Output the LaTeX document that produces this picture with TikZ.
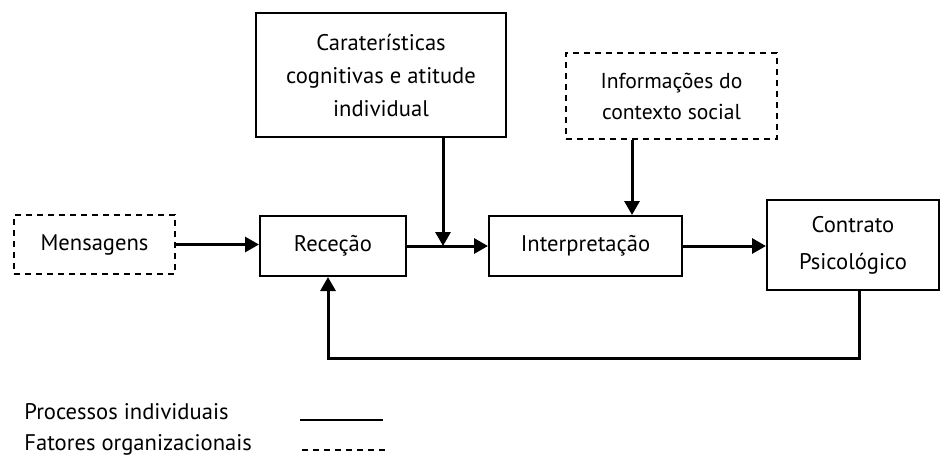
\documentclass[tikz,border=0pt]{standalone}
\usepackage{fontspec}
\setmainfont{PT Sans}
\usepackage{tikz}
\usetikzlibrary{arrows.meta}
\tikzstyle{block} = [rectangle, draw, line width=1pt, align=center, inner sep=0pt, font=\fontsize{11.3}{16.5}\selectfont]
\tikzstyle{fator} = [block, dash pattern=on 3pt off 2.5pt]
\tikzstyle{line} = [draw, line width=1.5pt, -{Triangle[length=7pt,width=7.5pt]}]
\tikzstyle{legenda} = [anchor=west, inner sep=0pt, font=\fontsize{11.3}{16}\selectfont]

\begin{document}
\begin{tikzpicture}[x=0.5pt, y=-0.5pt]
    \useasboundingbox (0,0) rectangle (941,462);

    % Nodes
    \node [fator, minimum width=80.5pt, minimum height=29.5pt] (mensagens) at (94.5,244.5) {Mensagens};
    \node [block, minimum width=73pt, minimum height=30pt] (rececao) at (333,246) {Receção};
    \node [block, minimum width=125pt, minimum height=62pt] (caracteristicas) at (381,75) {Caraterísticas\\cognitivas e atitude\\individual};
    \node [fator, minimum width=105.5pt, minimum height=43pt, font=\fontsize{10.8}{15.5}\selectfont] (informacoes) at (671.5,96) {Informações do\\contexto social};
    \node [block, minimum width=96.5pt, minimum height=30pt] (interpretacao) at (585.5,246) {Interpretação};
    \node [block, minimum width=86pt, minimum height=45pt, font=\fontsize{11.3}{18.5}\selectfont] (contrato) at (853,245) {Contrato\\Psicológico};

    % legend
    \node [legenda] (individuais) at (24,412) {Processos individuais};
    \node [legenda] (organizacionais) at (24,445) {Fatores organizacionais};
    \coordinate (sol_a) at (300,420);
    \coordinate (sol_b) at (383,420);
    \coordinate (das_a) at (302,450);
    \coordinate (das_b) at (385,450);

    % junction of the two inputs
    \coordinate (juncao) at (443,246);

    % arrows
    \draw [line] (mensagens.east) -- (rececao.west |- mensagens.east);
    \draw [line] (rececao.east) -- (interpretacao.west);
    \draw [line] (caracteristicas.south -| juncao) -- (juncao);
    \draw [line] ([xshift=-19.75pt]informacoes.south) -- ([xshift=-19.75pt]informacoes.south |- interpretacao.north);
    \draw [line] (interpretacao.east) -- (contrato.west |- interpretacao.east);
    \draw [line] ([xshift=3pt]contrato.south) -- ++(0,67) -| ([xshift=-2.5pt]rececao.south);

    \draw [line width=1pt] (sol_a) -- (sol_b);
    \draw [line width=1pt, dash pattern=on 3pt off 2.5pt] (das_a) -- (das_b);

  \end{tikzpicture}
\end{document}
